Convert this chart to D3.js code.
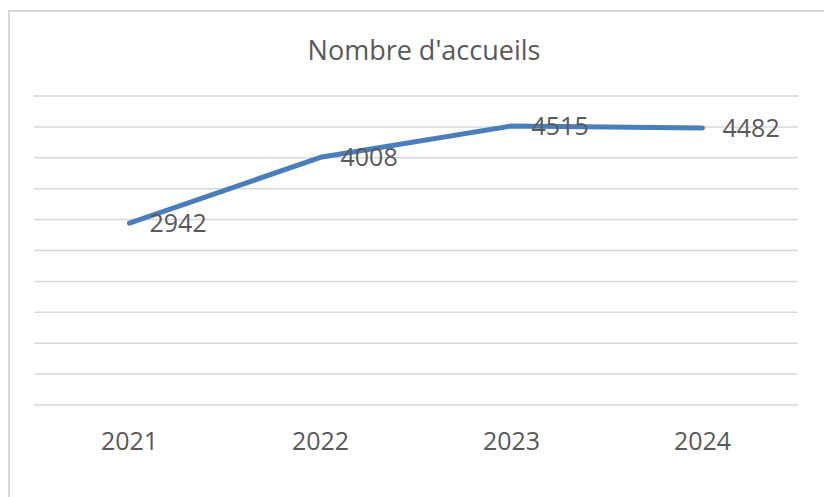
<!DOCTYPE html>
<html>
<head>
<meta charset="utf-8">
<script src="https://cdn.jsdelivr.net/npm/d3@7"></script>
<style>
  body { margin: 0; background: #fff; }
  text { font-family: "Open Sans", sans-serif; fill: #595959; }
</style>
</head>
<body>
<div id="chart"></div>
<script>
const years = ["2021", "2022", "2023", "2024"];
const accueils = [2942, 4008, 4515, 4482];
const yTicks = [0, 500, 1000, 1500, 2000, 2500, 3000, 3500, 4000, 4500, 5000];

const width = 824;
const height = 497;

const svg = d3.select("#chart")
  .append("svg")
  .attr("width", width)
  .attr("height", height);

// cadre du graphique (bordure grise, coupée à droite et en bas)
svg.append("rect")
  .attr("x", 9)
  .attr("y", 11)
  .attr("width", 830)
  .attr("height", 500)
  .attr("fill", "none")
  .attr("stroke", "#d9d9d9")
  .attr("stroke-width", 2);

const x = d3.scaleBand()
  .domain(years)
  .range([34, 798]);

const y = d3.scaleLinear()
  .domain([0, 5000])
  .range([405, 96]);

// lignes de quadrillage
svg.append("g")
  .selectAll("line")
  .data(yTicks)
  .enter()
  .append("line")
  .attr("x1", 34)
  .attr("x2", 798)
  .attr("y1", d => y(d))
  .attr("y2", d => y(d))
  .attr("stroke", "#d9d9d9")
  .attr("stroke-width", 1.5);

// axe x : seulement les libellés
const xAxis = svg.append("g")
  .attr("transform", "translate(0," + y(0) + ")")
  .call(d3.axisBottom(x).tickSize(0).tickPadding(27));
xAxis.select(".domain").remove();
xAxis.selectAll("text")
  .attr("font-size", 25)
  .attr("font-family", "Open Sans, sans-serif")
  .attr("fill", "#595959");

// titre
svg.append("text")
  .attr("x", 424)
  .attr("y", 60)
  .attr("text-anchor", "middle")
  .attr("font-size", 27)
  .text("Nombre d'accueils");

const line = d3.line()
  .x((d, i) => x(years[i]) + x.bandwidth() / 2)
  .y(d => y(d));

svg.append("path")
  .datum(accueils)
  .attr("d", line)
  .attr("fill", "none")
  .attr("stroke", "#4a7ebb")
  .attr("stroke-width", 5)
  .attr("stroke-linecap", "round")
  .attr("stroke-linejoin", "round");

// étiquettes de données, à droite des points
svg.append("g")
  .selectAll("text")
  .data(accueils)
  .enter()
  .append("text")
  .attr("x", (d, i) => x(years[i]) + x.bandwidth() / 2 + 20)
  .attr("y", d => y(d))
  .attr("dy", "0.35em")
  .attr("font-size", 25)
  .text(d => d);
</script>
</body>
</html>
